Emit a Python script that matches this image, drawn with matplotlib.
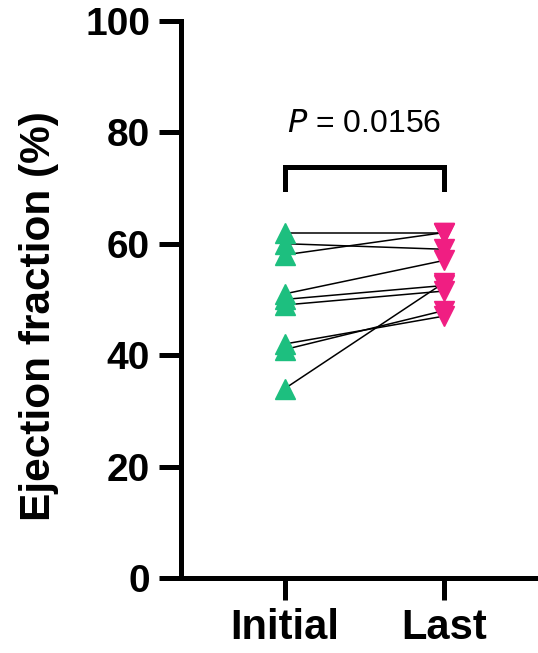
import matplotlib
matplotlib.use("Agg")
import matplotlib.pyplot as plt

# Paired ejection fraction values (%)
groups = ["Initial", "Last"]
initial = [62, 60, 58, 51, 50, 49, 42, 41, 34]
last = [62, 59, 62, 57, 52.5, 51.5, 47, 48, 53]
p_text = "$\\mathit{P}$ = 0.0156"

plt.rcParams['font.family'] = ['Liberation Sans', 'DejaVu Sans']

fig = plt.figure(figsize=(5.38, 6.53), dpi=100)
ax = fig.add_axes([0.336, 0.115, 0.664, 0.853])

# connecting lines
for a, b in zip(initial, last):
    ax.plot([1, 2], [a, b], color="black", lw=1.1, zorder=1)

ax.plot([1] * len(initial), initial, "^", color="#1DBF7F", ms=14, mec="#1DBF7F", ls="none", zorder=2)
ax.plot([2] * len(last), last, "v", color="#F01E82", ms=14, mec="#F01E82", ls="none", zorder=2)

# significance bracket
ax.plot([1, 1, 2, 2], [69.8, 73.7, 73.7, 69.8], color="black", lw=3.6, solid_joinstyle="miter", clip_on=False)
ax.text(1.5, 81.5, p_text, ha="center", va="center", fontsize=23)

ax.set_xlim(0.346, 2.59)
ax.set_ylim(0, 100)
ax.set_xticks([1, 2])
ax.set_xticklabels(groups, fontsize=30, fontweight="bold")
ax.set_yticks([0, 20, 40, 60, 80, 100])
ax.set_yticklabels(["0", "20", "40", "60", "80", "100"], fontsize=28, fontweight="bold")
ax.set_ylabel("Ejection fraction (%)", fontsize=30.5, fontweight="bold")
ax.yaxis.set_label_coords(-0.34, 0.47)

for s in ["top", "right"]:
    ax.spines[s].set_visible(False)
for s in ["left", "bottom"]:
    ax.spines[s].set_linewidth(3.6)
ax.tick_params(width=3.6, length=16, direction="out", pad=6)

fig.savefig("out.png", dpi=100)
